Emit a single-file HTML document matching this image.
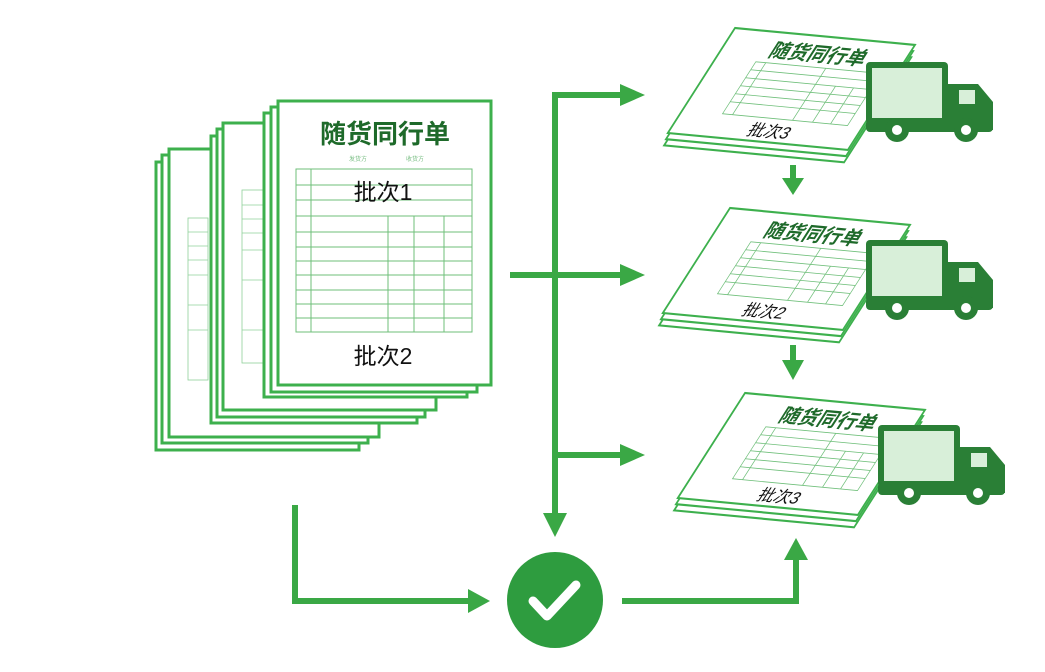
<!DOCTYPE html>
<html><head><meta charset="utf-8"><style>
html,body{margin:0;padding:0;background:#fff;}
svg{display:block;}
text{font-family:"Liberation Sans","Noto Sans CJK SC",sans-serif;}
</style></head><body>
<svg width="1045" height="672" viewBox="0 0 1045 672" xmlns="http://www.w3.org/2000/svg">
<defs>
<g id="doc">
  <polygon points="4,12 184,12 184,117 4,117" fill="#fff" stroke="#3db04d" stroke-width="2"/>
  <polygon points="2,6 182,6 182,111 2,111" fill="#fff" stroke="#3db04d" stroke-width="2"/>
  <polygon points="0,0 180,0 180,105 0,105" fill="#fff" stroke="#3db04d" stroke-width="2"/>
  <text x="95" y="24" text-anchor="middle" font-size="19" font-weight="bold" fill="#1e6a2a">随货同行单</text>
  <g stroke="#6fbf7a" stroke-width="0.8" fill="none">
    <rect x="40" y="30" width="125" height="52"/>
    <line x1="40" y1="38" x2="165" y2="38"/><line x1="40" y1="46" x2="165" y2="46"/>
    <line x1="40" y1="54" x2="165" y2="54"/><line x1="40" y1="62" x2="165" y2="62"/>
    <line x1="40" y1="70" x2="165" y2="70"/>
    <line x1="50" y1="30" x2="50" y2="82"/><line x1="110" y1="30" x2="110" y2="82"/>
    <line x1="130" y1="46" x2="130" y2="82"/><line x1="148" y1="46" x2="148" y2="82"/>
  </g>
</g>
<g id="truck" fill="#2a7f36">
  <rect x="0" y="0" width="82" height="62" rx="4" fill="#2a7f36"/>
  <rect x="6" y="6" width="70" height="50" fill="#d8efd9"/>
  <path d="M82 22 H112 L127 40 V68 H82 Z"/>
  <rect x="93" y="28" width="16" height="14" fill="#d8efd9"/>
  <rect x="0" y="58" width="127" height="12" rx="4"/>
  <circle cx="31" cy="68" r="12"/><circle cx="31" cy="68" r="5" fill="#fff"/>
  <circle cx="100" cy="68" r="12"/><circle cx="100" cy="68" r="5" fill="#fff"/>
</g>
</defs>

<g fill="#fff" stroke="#3db04d" stroke-width="3">
  <rect x="156" y="162" width="203" height="288"/>
  <rect x="162" y="155" width="206" height="288"/>
  <rect x="169" y="149" width="210" height="288"/>
</g>
<g stroke="#8fd09a" stroke-width="0.8" fill="none">
  <rect x="188" y="218" width="20" height="162"/>
  <line x1="188" y1="232" x2="208" y2="232"/><line x1="188" y1="246" x2="208" y2="246"/>
  <line x1="188" y1="260" x2="208" y2="260"/><line x1="188" y1="275" x2="208" y2="275"/>
  <line x1="188" y1="305" x2="208" y2="305"/><line x1="188" y1="330" x2="208" y2="330"/>
</g>
<g fill="#fff" stroke="#3db04d" stroke-width="3">
  <rect x="211" y="136" width="206" height="287"/>
  <rect x="217" y="129" width="208" height="288"/>
  <rect x="223" y="123" width="213" height="287"/>
</g>
<g stroke="#8fd09a" stroke-width="0.8" fill="none">
  <rect x="242" y="190" width="22" height="173"/>
  <line x1="242" y1="205" x2="264" y2="205"/><line x1="242" y1="219" x2="264" y2="219"/>
  <line x1="242" y1="233" x2="264" y2="233"/><line x1="242" y1="250" x2="264" y2="250"/>
  <line x1="242" y1="280" x2="264" y2="280"/><line x1="242" y1="330" x2="264" y2="330"/>
</g>
<g fill="#fff" stroke="#3db04d" stroke-width="3">
  <rect x="264" y="113" width="203" height="284"/>
  <rect x="271" y="107" width="206" height="285"/>
  <rect x="278" y="101" width="213" height="284"/>
</g>
<text x="385" y="143" text-anchor="middle" font-size="26" font-weight="bold" fill="#1e6a2a">随货同行单</text>
<text x="358" y="161" text-anchor="middle" font-size="6" fill="#7bbf85">发货方</text>
<text x="415" y="161" text-anchor="middle" font-size="6" fill="#7bbf85">收货方</text>
<g stroke="#6fbf7a" stroke-width="1" fill="none">
  <rect x="296" y="169" width="176" height="163"/>
  <line x1="296" y1="185" x2="472" y2="185"/><line x1="296" y1="200" x2="472" y2="200"/>
  <line x1="296" y1="216" x2="472" y2="216"/><line x1="296" y1="232" x2="472" y2="232"/>
  <line x1="296" y1="247" x2="472" y2="247"/><line x1="296" y1="261" x2="472" y2="261"/>
  <line x1="296" y1="275" x2="472" y2="275"/><line x1="296" y1="290" x2="472" y2="290"/>
  <line x1="296" y1="304" x2="472" y2="304"/><line x1="296" y1="318" x2="472" y2="318"/>
  <line x1="311" y1="169" x2="311" y2="332"/>
  <line x1="388" y1="216" x2="388" y2="332"/><line x1="414" y1="216" x2="414" y2="332"/>
  <line x1="444" y1="216" x2="444" y2="332"/>
</g>
<text x="383" y="200" text-anchor="middle" font-size="23" fill="#111">批次1</text>
<text x="383" y="364" text-anchor="middle" font-size="23" fill="#111">批次2</text>

<g stroke="#3aa845" stroke-width="6" fill="none">
  <line x1="510" y1="275" x2="622" y2="275"/>
  <line x1="555" y1="95" x2="555" y2="515"/>
  <line x1="552" y1="95" x2="622" y2="95"/>
  <line x1="552" y1="455" x2="622" y2="455"/>
  <polyline points="295,505 295,601 470,601"/>
  <polyline points="622,601 796,601 796,558"/>
  <line x1="793" y1="165" x2="793" y2="180"/>
  <line x1="793" y1="345" x2="793" y2="362"/>
</g>
<g fill="#3aa845">
  <polygon points="620,84 645,95 620,106"/>
  <polygon points="620,264 645,275 620,286"/>
  <polygon points="620,444 645,455 620,466"/>
  <polygon points="543,513 567,513 555,537"/>
  <polygon points="468,589 490,601 468,613"/>
  <polygon points="784,560 808,560 796,538"/>
  <polygon points="782,178 804,178 793,195"/>
  <polygon points="782,360 804,360 793,380"/>
</g>
<circle cx="555" cy="600" r="48" fill="#2e9c3f"/>
<polyline points="533,601 547,616 576,585" fill="none" stroke="#fff" stroke-width="9" stroke-linecap="round" stroke-linejoin="round"/>

<g transform="matrix(1,0.094,-0.64,1,735,28)"><use href="#doc"/><text x="95" y="100" text-anchor="middle" font-size="16" fill="#111">批次3</text></g>
<g transform="matrix(1,0.094,-0.64,1,730,208)"><use href="#doc"/><text x="95" y="100" text-anchor="middle" font-size="16" fill="#111">批次2</text></g>
<g transform="matrix(1,0.094,-0.64,1,745,393)"><use href="#doc"/><text x="95" y="100" text-anchor="middle" font-size="16" fill="#111">批次3</text></g>
<use href="#truck" transform="translate(866,62)"/>
<use href="#truck" transform="translate(866,240)"/>
<use href="#truck" transform="translate(878,425)"/>
</svg>
</body></html>
